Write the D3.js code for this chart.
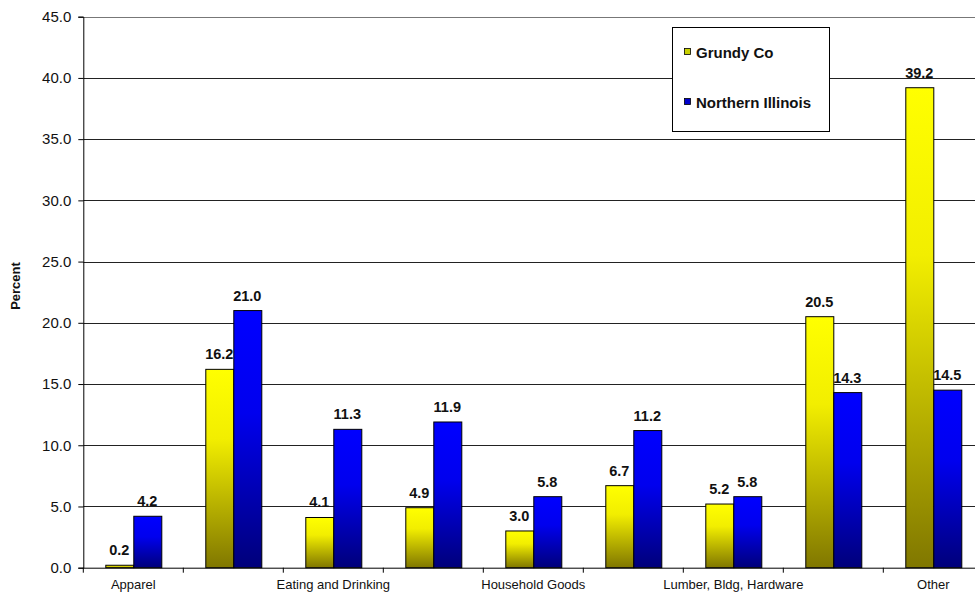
<!DOCTYPE html>
<html>
<head>
<meta charset="utf-8">
<script src="https://cdn.jsdelivr.net/npm/d3@7"></script>
<style>
  html, body { margin: 0; padding: 0; background: #fff; }
  svg { display: block; font-family: "Liberation Sans", Arial, sans-serif; }
</style>
</head>
<body>
<svg id="chart" width="975" height="592"></svg>
<script>
// ---- data ----
const categories = ["Apparel", "Automotive", "Eating and Drinking", "Food", "Household Goods",
                    "General Merchandise", "Lumber, Bldg, Hardware", "Drug", "Other"];
const shownLabels = ["Apparel", "", "Eating and Drinking", "", "Household Goods",
                     "", "Lumber, Bldg, Hardware", "", "Other"];
const seriesNames = ["Grundy Co", "Northern Illinois"];
const grundy = [0.2, 16.2, 4.1, 4.9, 3.0, 6.7, 5.2, 20.5, 39.2];
const northern = [4.2, 21.0, 11.3, 11.9, 5.8, 11.2, 5.8, 14.3, 14.5];
const yTicks = [0, 5, 10, 15, 20, 25, 30, 35, 40, 45];

(function () {
// ---- layout ----
const svg = d3.select("#chart");
const mLeft = 83.3, mTop = 16.7, mBottom = 567.7, mRight = 983.3;

const x0 = d3.scaleBand().domain(categories).range([mLeft, mRight])
  .paddingInner(0.44).paddingOuter(0.22);
const x1 = d3.scaleBand().domain(seriesNames).range([0, x0.bandwidth()]);
const y = d3.scaleLinear().domain([0, 45]).range([mBottom, mTop]);

// gradients
const defs = svg.append("defs");
const gradSpecs = [
  { id: "gYellow", stops: [[0, "#ffff00"], [0.35, "#f2ee00"], [1, "#807700"]] },
  { id: "gBlue", stops: [[0, "#0000ff"], [0.4, "#0000ee"], [1, "#00007a"]] }
];
gradSpecs.forEach(g => {
  const lg = defs.append("linearGradient").attr("id", g.id)
    .attr("x1", 0).attr("y1", 0).attr("x2", 0).attr("y2", 1);
  g.stops.forEach(s => lg.append("stop").attr("offset", s[0]).attr("stop-color", s[1]));
});
const fills = { "Grundy Co": "url(#gYellow)", "Northern Illinois": "url(#gBlue)" };
const legendFills = { "Grundy Co": "#c8d000", "Northern Illinois": "#0000cc" };

// gridlines
svg.append("g")
  .selectAll("line").data(yTicks.filter(d => d > 0)).join("line")
  .attr("x1", mLeft).attr("x2", 975)
  .attr("y1", d => Math.round(y(d)) + 0.5).attr("y2", d => Math.round(y(d)) + 0.5)
  .attr("stroke", d => d === 45 ? "#777" : "#222").attr("stroke-width", 1);

// y axis
const yAxis = svg.append("g").attr("transform", `translate(${mLeft},0)`)
  .call(d3.axisLeft(y).tickValues(yTicks).tickFormat(d3.format(".1f")).tickSize(5).tickPadding(7));
yAxis.select(".domain").attr("stroke", "#000");
yAxis.selectAll(".tick line").attr("stroke", "#000");
yAxis.selectAll("text").attr("font-size", 15).attr("fill", "#111")
  .attr("font-family", "'Liberation Sans', Arial, sans-serif");

// x axis
const xAxisG = svg.append("g").attr("transform", `translate(0,${mBottom})`);
xAxisG.append("line").attr("x1", mLeft).attr("x2", 975).attr("y1", 0.5).attr("y2", 0.5).attr("stroke", "#000");
const boundaries = categories.map(c => x0(c) - x0.step() * 0.22);
xAxisG.selectAll("line.tk").data(boundaries).join("line").attr("class", "tk")
  .attr("x1", d => d).attr("x2", d => d).attr("y1", 0).attr("y2", 5).attr("stroke", "#000");
xAxisG.selectAll("text").data(categories).join("text")
  .attr("x", d => x0(d) + x0.bandwidth() / 2)
  .attr("y", 21.5)
  .attr("text-anchor", "middle")
  .attr("font-size", 13)
  .attr("fill", "#111")
  .text((d, i) => shownLabels[i]);

// bars
const rows = categories.map((c, i) => ({ cat: c, vals: [
  { s: seriesNames[0], v: grundy[i] }, { s: seriesNames[1], v: northern[i] }] }));
const groups = svg.append("g").selectAll("g").data(rows).join("g")
  .attr("transform", d => `translate(${x0(d.cat)},0)`);
groups.selectAll("rect").data(d => d.vals).join("rect")
  .attr("x", d => x1(d.s) + 0.5)
  .attr("y", d => y(d.v))
  .attr("width", x1.bandwidth())
  .attr("height", d => y(0) - y(d.v))
  .attr("fill", d => fills[d.s])
  .attr("stroke", "#000").attr("stroke-width", 1);
groups.selectAll("text").data(d => d.vals).join("text")
  .attr("x", d => x1(d.s) + x1.bandwidth() / 2)
  .attr("y", d => y(d.v) - 10)
  .attr("text-anchor", "middle")
  .attr("font-size", 14.5).attr("font-weight", "bold").attr("fill", "#111")
  .text(d => d3.format(".1f")(d.v));

// y title
svg.append("text")
  .attr("transform", "translate(20,286) rotate(-90)")
  .attr("text-anchor", "middle")
  .attr("font-size", 13).attr("font-weight", "bold").attr("fill", "#111")
  .text("Percent");

// legend
const lg = svg.append("g").attr("transform", "translate(672,27)");
lg.append("rect").attr("x", 0.5).attr("y", 0.5).attr("width", 157).attr("height", 104)
  .attr("fill", "#fff").attr("stroke", "#000");
seriesNames.forEach((s, i) => {
  const yy = 31 + i * 50;
  lg.append("rect").attr("x", 12.5).attr("y", yy - 9.5).attr("width", 6).attr("height", 6)
    .attr("fill", legendFills[s]).attr("stroke", "#000").attr("stroke-width", 0.8);
  lg.append("text").attr("x", 24).attr("y", yy)
    .attr("font-size", 15).attr("font-weight", "bold").attr("fill", "#111").text(s);
});
})();
</script>
</body>
</html>
